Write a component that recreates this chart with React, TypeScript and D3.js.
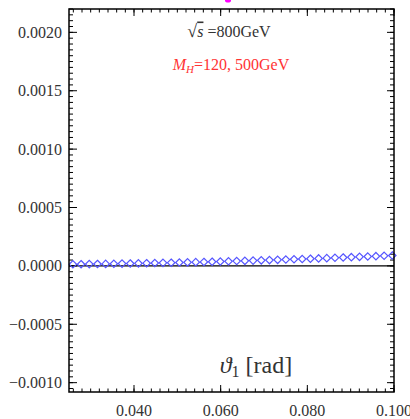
import React from "react";
import * as d3 from "d3";

const W = 410;
const H = 419;

const xValues = [
  0.0259, 0.02779, 0.02968, 0.03157, 0.03346, 0.03535, 0.03724, 0.03913, 0.04102, 0.04291,
  0.0448, 0.04669, 0.04858, 0.05047, 0.05236, 0.05425, 0.05614, 0.05803, 0.05992, 0.06181,
  0.0637, 0.06559, 0.06748, 0.06937, 0.07126, 0.07315, 0.07504, 0.07693, 0.07882, 0.08071,
  0.0826, 0.08449, 0.08638, 0.08827, 0.09016, 0.09205, 0.09394, 0.09583, 0.09772, 0.09961,
];
// values in units of 1e-6
const yValuesMicro = [
  13.5, 14.3, 15.2, 16.2, 17.2, 18.2, 19.4, 20.6, 21.8, 23.1,
  24.5, 25.9, 27.4, 28.9, 30.5, 32.1, 33.8, 35.6, 37.4, 39.3,
  41.3, 43.3, 45.3, 47.5, 49.6, 51.9, 54.2, 56.5, 58.9, 61.4,
  64.0, 66.5, 69.2, 71.9, 74.7, 77.5, 80.4, 83.3, 86.3, 89.4,
];

const xTicks = [0.04, 0.06, 0.08, 0.1];
const xTickLabels = ["0.040", "0.060", "0.080", "0.100"];
const yTicks = [-0.001, -0.0005, 0, 0.0005, 0.001, 0.0015, 0.002];
const yTickLabels = ["\u22120.0010", "\u22120.0005", "0.0000", "0.0005", "0.0010", "0.0015", "0.0020"];

const xDomain: [number, number] = [0.025, 0.1];
const yDomain: [number, number] = [-0.00108, 0.0022];

const M = { left: 69, right: 394, top: 9, bottom: 392 };

export default function App() {
  const x = d3.scaleLinear().domain(xDomain).range([M.left, M.right]);
  const y = d3.scaleLinear().domain(yDomain).range([M.bottom, M.top]);

  const xMinor = d3.range(0.026, 0.1001, 0.002).map((v) => +v.toFixed(4));
  const yMinor = d3.range(-0.00105, 0.00221, 0.00005).map((v) => +v.toFixed(6));

  const font = "Liberation Serif, DejaVu Serif, serif";
  const txt = "#333";
  const d = 3.7;

  return (
    <svg width={W} height={H} style={{ position: "absolute", left: 0, top: 0, background: "#fff" }}>
      <rect x={0} y={0} width={W} height={H} fill="#fff" />
      <ellipse cx={228} cy={0.5} rx={3} ry={2} fill="#ff00ff" />
      {xMinor.map((v, i) => (
        <g key={"xm" + i} stroke="#000" strokeWidth={1}>
          <line x1={x(v)} x2={x(v)} y1={M.bottom} y2={M.bottom - 3.5} />
          <line x1={x(v)} x2={x(v)} y1={M.top} y2={M.top + 3.5} />
        </g>
      ))}
      {xTicks.map((v, i) => (
        <g key={"xt" + i} stroke="#000" strokeWidth={1}>
          <line x1={x(v)} x2={x(v)} y1={M.bottom} y2={M.bottom - 7} />
          <line x1={x(v)} x2={x(v)} y1={M.top} y2={M.top + 7} />
        </g>
      ))}
      {yMinor.map((v, i) => (
        <g key={"ym" + i} stroke="#000" strokeWidth={1}>
          <line x1={M.left} x2={M.left + 4} y1={y(v)} y2={y(v)} />
          <line x1={M.right} x2={M.right - 4} y1={y(v)} y2={y(v)} />
        </g>
      ))}
      {yTicks.map((v, i) => (
        <g key={"yt" + i} stroke="#000" strokeWidth={1}>
          <line x1={M.left} x2={M.left + 8} y1={y(v)} y2={y(v)} />
          <line x1={M.right} x2={M.right - 7} y1={y(v)} y2={y(v)} />
        </g>
      ))}
      <line x1={M.left} x2={M.right} y1={y(0)} y2={y(0)} stroke="#000" strokeWidth={1.3} />
      <g fill="none" stroke="#5555ff" strokeWidth={1.2}>
        {xValues.map((xv, i) => {
          const cx = x(xv);
          const cy = y(yValuesMicro[i] * 1e-6);
          return (
            <path
              key={"p" + i}
              d={`M${cx},${cy - d}L${cx + d},${cy}L${cx},${cy + d}L${cx - d},${cy}Z`}
            />
          );
        })}
      </g>
      <rect
        x={M.left}
        y={M.top}
        width={M.right - M.left}
        height={M.bottom - M.top}
        fill="none"
        stroke="#000"
        strokeWidth={1.5}
      />
      {yTicks.map((v, i) => (
        <text
          key={"yl" + i}
          x={62}
          y={y(v) + 5.5}
          textAnchor="end"
          fontFamily={font}
          fontSize={16}
          fill={txt}
        >
          {yTickLabels[i]}
        </text>
      ))}
      {xTicks.map((v, i) => (
        <text
          key={"xl" + i}
          x={x(v)}
          y={416}
          textAnchor="middle"
          fontFamily={font}
          fontSize={16}
          fill={txt}
        >
          {xTickLabels[i]}
        </text>
      ))}
      <text x={229} y={36.5} textAnchor="middle" fontFamily={font} fontSize={16} fill={txt}>
        <tspan fontSize={18}>{"\u221A"}</tspan>
        <tspan fontStyle="italic" textDecoration="overline">s</tspan>
        <tspan>{" =800GeV"}</tspan>
      </text>
      <text x={231} y={69.5} textAnchor="middle" fontFamily={font} fontSize={16} fill="#ff3333">
        <tspan fontStyle="italic">M</tspan>
        <tspan fontStyle="italic" fontSize={11} dy={3}>H</tspan>
        <tspan dy={-3}>=120, 500GeV</tspan>
      </text>
      <text x={256} y={373} textAnchor="middle" fontFamily={font} fontSize={24} fill={txt}>
        <tspan fontStyle="italic">{"\u03D1"}</tspan>
        <tspan fontSize={16} dy={4}>1</tspan>
        <tspan dy={-4}>{" [rad]"}</tspan>
      </text>
    </svg>
  );
}
